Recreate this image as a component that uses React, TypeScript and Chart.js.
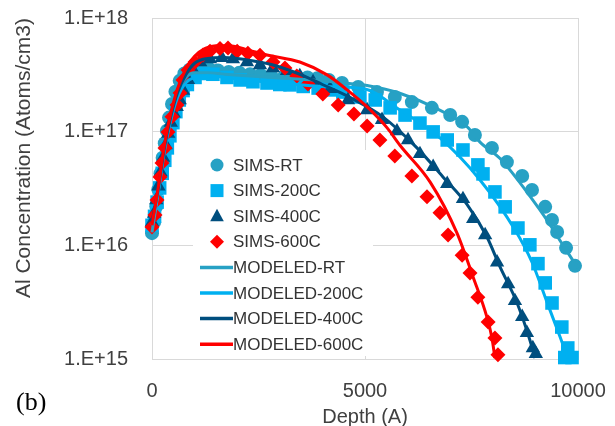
import React, { useEffect, useRef } from "react";
import { Chart, registerables } from "chart.js";

Chart.register(...registerables);

// ---------- data ----------
const rtDepth = [0, 50, 100, 150, 200, 250, 300, 350, 400, 470, 550, 650, 760, 880, 1000, 1150, 1350, 1550, 1800, 2050, 2300, 2550, 2800, 3100, 3400, 3650, 3880, 4150, 4460, 4840, 5280, 5700, 6100, 6570, 7000, 7280, 7580, 7980, 8330, 8690, 8920, 9230, 9390, 9510, 9720, 9930];
const rtConc = [1.28e16, 1.6e16, 2.2e16, 3.1e16, 4.3e16, 5.9e16, 7.9e16, 1.02e17, 1.33e17, 1.75e17, 2.25e17, 2.8e17, 3.25e17, 3.5e17, 3.6e17, 3.6e17, 3.55e17, 3.45e17, 3.35e17, 3.3e17, 3.2e17, 3.15e17, 3.1e17, 3.05e17, 3.0e17, 3.0e17, 2.95e17, 2.85e17, 2.68e17, 2.47e17, 2.23e17, 2.02e17, 1.82e17, 1.62e17, 1.4e17, 1.22e17, 9.35e16, 7.2e16, 5.4e16, 4.07e16, 3.07e16, 2.18e16, 1.67e16, 1.31e16, 9.5e15, 6.6e15];

const c200Depth = [0, 60, 120, 180, 240, 300, 360, 420, 490, 560, 640, 730, 830, 1010, 1200, 1430, 1760, 2070, 2370, 2700, 3000, 3240, 3550, 3900, 4180, 4480, 4880, 5240, 5590, 5940, 6290, 6600, 6930, 7300, 7650, 7770, 8050, 8290, 8590, 8870, 9060, 9230, 9390, 9620, 9760, 9690, 9860];
const c200Conc = [1.5e16, 1.8e16, 2.4e16, 3.2e16, 4.3e16, 5.6e16, 7.2e16, 9.2e16, 1.2e17, 1.5e17, 1.9e17, 2.3e17, 2.6e17, 3.0e17, 3.25e17, 3.2e17, 3.0e17, 2.85e17, 2.75e17, 2.68e17, 2.6e17, 2.58e17, 2.5e17, 2.42e17, 2.33e17, 2.23e17, 2.02e17, 1.9e17, 1.62e17, 1.4e17, 1.19e17, 9.95e16, 8.45e16, 6.9e16, 5.1e16, 4.25e16, 2.95e16, 2.18e16, 1.42e16, 1.01e16, 6.9e15, 4.67e15, 3.11e15, 1.91e15, 1.25e15, 1.03e15, 1.03e15];

const c400Depth = [0, 50, 100, 150, 200, 260, 320, 380, 440, 510, 580, 650, 730, 845, 960, 1130, 1360, 1640, 1900, 2230, 2535, 2840, 3170, 3470, 3780, 4180, 4600, 5050, 5400, 5750, 6010, 6290, 6600, 6930, 7300, 7540, 7820, 8100, 8360, 8520, 8690, 8800, 8940, 9010];
const c400Conc = [1.6e16, 1.9e16, 2.5e16, 3.3e16, 4.4e16, 5.9e16, 7.6e16, 9.6e16, 1.2e17, 1.45e17, 1.65e17, 1.9e17, 2.3e17, 2.85e17, 3.49e17, 4.1e17, 4.36e17, 4.45e17, 4.36e17, 4.1e17, 3.86e17, 3.63e17, 3.42e17, 3.09e17, 2.73e17, 2.38e17, 1.9e17, 1.55e17, 1.27e17, 1.01e17, 8.45e16, 6.37e16, 4.9e16, 3.47e16, 2.56e16, 1.71e16, 1.23e16, 7.1e15, 4.57e15, 3.24e15, 2.35e15, 1.7e15, 1.25e15, 1.11e15];

const c600Depth = [0, 70, 117, 188, 235, 305, 376, 469, 587, 657, 728, 845, 1009, 1197, 1362, 1596, 1784, 2000, 2250, 2535, 2840, 3120, 3400, 3660, 4010, 4370, 4740, 5050, 5350, 5700, 6100, 6455, 6760, 6950, 7280, 7465, 7650, 7890, 8050, 8120];
const c600Conc = [1.45e16, 1.85e16, 2.5e16, 4.0e16, 5.3e16, 7.2e16, 9.95e16, 1.35e17, 1.72e17, 2.19e17, 2.85e17, 3.49e17, 4.1e17, 4.73e17, 5.1e17, 5.4e17, 5.45e17, 5.1e17, 4.9e17, 4.7e17, 4.1e17, 3.63e17, 3.09e17, 2.63e17, 2.15e17, 1.72e17, 1.43e17, 1.12e17, 8.45e16, 6.1e16, 4.07e16, 2.67e16, 1.93e16, 1.23e16, 8.2e15, 5.7e15, 3.5e15, 2.12e15, 1.53e15, 1.09e15];

const mRtDepth = [0, 150, 300, 450, 600, 800, 1000, 1300, 1700, 2200, 2800, 3400, 4000, 4500, 5050, 5800, 6600, 7400, 7700, 8170, 8940, 9270, 9650, 10000];
const mRtConc = [1.3e16, 3.0e16, 7.5e16, 1.4e17, 2.2e17, 3.0e17, 3.3e17, 3.3e17, 3.2e17, 3.1e17, 3.0e17, 2.9e17, 2.8e17, 2.68e17, 2.55e17, 2.19e17, 1.65e17, 1.1e17, 8.1e16, 5.8e16, 2.5e16, 1.67e16, 1.0e16, 6.3e15];

const m200Depth = [0, 150, 300, 450, 600, 800, 1000, 1300, 1700, 2200, 2800, 3400, 4000, 4950, 5820, 6760, 7700, 8520, 8920, 9270, 9580, 9770];
const m200Conc = [1.5e16, 3.0e16, 7.0e16, 1.3e17, 2.0e17, 2.7e17, 3.0e17, 3.1e17, 3.0e17, 2.85e17, 2.7e17, 2.6e17, 2.5e17, 2.4e17, 1.55e17, 8.8e16, 3.76e16, 1.37e16, 7.1e15, 3.18e15, 1.56e15, 1.0e15];

const m400Depth = [0, 150, 300, 450, 600, 800, 1000, 1300, 1700, 2200, 2800, 3470, 4000, 4650, 5420, 6220, 6830, 7390, 7860, 8170, 8570, 8870, 8990];
const m400Conc = [1.6e16, 3.2e16, 7.5e16, 1.4e17, 2.2e17, 3.2e17, 4.0e17, 4.4e17, 4.5e17, 4.3e17, 3.9e17, 3.2e17, 2.6e17, 2.0e17, 1.35e17, 7.2e16, 4.0e16, 2.3e16, 1.19e16, 6.46e15, 3.11e15, 1.47e15, 1.02e15];

const m600Depth = [0, 150, 300, 450, 600, 800, 1000, 1250, 1500, 1800, 2200, 2700, 3470, 4110, 4580, 5050, 5520, 5820, 6530, 7160, 7535, 7860, 7980, 8050];
const m600Conc = [1.5e16, 3.3e16, 8.0e16, 1.5e17, 2.4e17, 3.6e17, 4.6e17, 5.4e17, 5.7e17, 5.7e17, 5.3e17, 4.73e17, 4.1e17, 3.16e17, 2.33e17, 1.65e17, 1.08e17, 7.6e16, 3.6e16, 1.28e16, 5.3e15, 2.35e15, 1.53e15, 1.02e15];

const xTicks = [0, 5000, 10000];
const yTicks = [1e15, 1e16, 1e17, 1e18];

const seriesLabels = ["SIMS-RT", "SIMS-200C", "SIMS-400C", "SIMS-600C", "MODELED-RT", "MODELED-200C", "MODELED-400C", "MODELED-600C"];
const seriesColors = ["#27A1C4", "#00B0F0", "#004E7E", "#FF0000", "#27A1C4", "#00B0F0", "#004E7E", "#FF0000"];
const markerStyles = ["circle", "rect", "triangle", "rectRot"];

const xTitle = "Depth (A)";
const yTitle = "Al Concentration (Atoms/cm3)";
const panelLabel = "(b)";

const FONT = "'Liberation Sans', Arial, sans-serif";

function pts(xs: number[], ys: number[]) {
  return xs.map((x, i) => ({ x, y: ys[i] }));
}

function drawMarker(ctx: CanvasRenderingContext2D, style: string, x: number, y: number, color: string) {
  ctx.fillStyle = color;
  ctx.beginPath();
  if (style === "circle") {
    ctx.arc(x, y, 6.5, 0, Math.PI * 2);
  } else if (style === "rect") {
    ctx.rect(x - 6.5, y - 6.5, 13, 13);
  } else if (style === "triangle") {
    ctx.moveTo(x, y - 7.5);
    ctx.lineTo(x + 6.8, y + 5);
    ctx.lineTo(x - 6.8, y + 5);
    ctx.closePath();
  } else {
    ctx.moveTo(x, y - 7);
    ctx.lineTo(x + 7, y);
    ctx.lineTo(x, y + 7);
    ctx.lineTo(x - 7, y);
    ctx.closePath();
  }
  ctx.fill();
}

const legendPlugin = {
  id: "insideLegend",
  afterDatasetsDraw(chart: any) {
    const ctx: CanvasRenderingContext2D = chart.ctx;
    ctx.save();
    ctx.fillStyle = "#FFFFFF";
    ctx.fillRect(193, 150, 180, 206);
    ctx.font = "17px " + FONT;
    ctx.textBaseline = "middle";
    ctx.textAlign = "left";
    const rowY0 = 165;
    const rowH = 25.6;
    seriesLabels.forEach((label, i) => {
      const y = rowY0 + i * rowH;
      const color = seriesColors[i];
      if (i < 4) {
        drawMarker(ctx, markerStyles[i], 217, y, color);
      } else {
        ctx.strokeStyle = color;
        ctx.lineWidth = 3.5;
        ctx.beginPath();
        ctx.moveTo(200, y);
        ctx.lineTo(233, y);
        ctx.stroke();
      }
      ctx.fillStyle = "#333333";
      ctx.fillText(label, 233, y + 1);
    });
    ctx.restore();
  },
  afterDraw(chart: any) {
    const ctx: CanvasRenderingContext2D = chart.ctx;
    ctx.save();
    ctx.font = "26px 'Liberation Serif', 'Times New Roman', serif";
    ctx.fillStyle = "#000000";
    ctx.textBaseline = "alphabetic";
    ctx.textAlign = "left";
    ctx.fillText(panelLabel, 16, 410);
    ctx.restore();
  },
};

export default function App() {
  const ref = useRef<HTMLCanvasElement | null>(null);

  useEffect(() => {
    if (!ref.current) return;
    const simsX = [rtDepth, c200Depth, c400Depth, c600Depth];
    const simsY = [rtConc, c200Conc, c400Conc, c600Conc];
    const modX = [mRtDepth, m200Depth, m400Depth, m600Depth];
    const modY = [mRtConc, m200Conc, m400Conc, m600Conc];
    const radii = [7, 9.6, 8.3, 7.5];

    const datasets: any[] = [];
    for (let i = 0; i < 4; i++) {
      datasets.push({
        label: seriesLabels[i],
        data: pts(simsX[i], simsY[i]),
        showLine: false,
        pointStyle: markerStyles[i],
        pointRadius: radii[i],
        pointHoverRadius: radii[i],
        pointBackgroundColor: seriesColors[i],
        pointBorderWidth: 0,
        borderColor: seriesColors[i],
        backgroundColor: seriesColors[i],
        order: 8 - i,
        clip: false,
      });
    }
    for (let i = 0; i < 4; i++) {
      datasets.push({
        label: seriesLabels[i + 4],
        data: pts(modX[i], modY[i]),
        showLine: true,
        pointRadius: 0,
        borderColor: seriesColors[i + 4],
        backgroundColor: seriesColors[i + 4],
        borderWidth: 3,
        cubicInterpolationMode: "monotone",
        order: 4 - i,
        clip: false,
      });
    }

    const chart = new Chart(ref.current, {
      type: "scatter",
      data: { datasets },
      plugins: [legendPlugin],
      options: {
        responsive: false,
        animation: false,
        devicePixelRatio: 1,
        layout: { padding: { top: 18, right: 37, left: 0, bottom: 0 } },
        plugins: { legend: { display: false }, tooltip: { enabled: false } },
        scales: {
          x: {
            type: "linear",
            min: 0,
            max: 10000,
            afterBuildTicks: (scale: any) => {
              scale.ticks = xTicks.map((v) => ({ value: v }));
            },
            afterFit: (scale: any) => {
              scale.height = 67;
              scale.paddingLeft = 0;
              scale.paddingRight = 0;
            },
            ticks: {
              font: { family: FONT, size: 20 },
              color: "#404040",
              padding: 20,
              maxRotation: 0,
              callback: (v: any) => String(v),
            },
            grid: { color: "#D9D9D9", lineWidth: 1, drawTicks: false },
            border: { color: "#D9D9D9", width: 1 },
            title: {
              display: true,
              text: xTitle,
              font: { family: FONT, size: 20, lineHeight: 0.85 },
              color: "#404040",
              padding: { top: 0, bottom: 0 },
            },
          },
          y: {
            type: "logarithmic",
            min: 1e15,
            max: 1e18,
            afterBuildTicks: (scale: any) => {
              scale.ticks = yTicks.map((v) => ({ value: v }));
            },
            afterFit: (scale: any) => {
              scale.width = 152;
              scale.paddingTop = 0;
              scale.paddingBottom = 0;
            },
            ticks: {
              font: { family: FONT, size: 20 },
              color: "#404040",
              padding: 24,
              callback: (v: any) => "1.E+" + Math.round(Math.log10(v)),
            },
            grid: { color: "#D9D9D9", lineWidth: 1, drawTicks: false },
            border: { color: "#D9D9D9", width: 1 },
            title: {
              display: true,
              text: yTitle,
              align: "end",
              font: { family: FONT, size: 21 },
              color: "#404040",
              padding: { top: 12, bottom: 0 },
            },
          },
        },
      } as any,
    });
    return () => chart.destroy();
  }, []);

  return (
    <div style={{ position: "fixed", left: 0, top: 0, width: 615, height: 426, background: "#fff" }}>
      <canvas ref={ref} width={615} height={426} />
    </div>
  );
}
